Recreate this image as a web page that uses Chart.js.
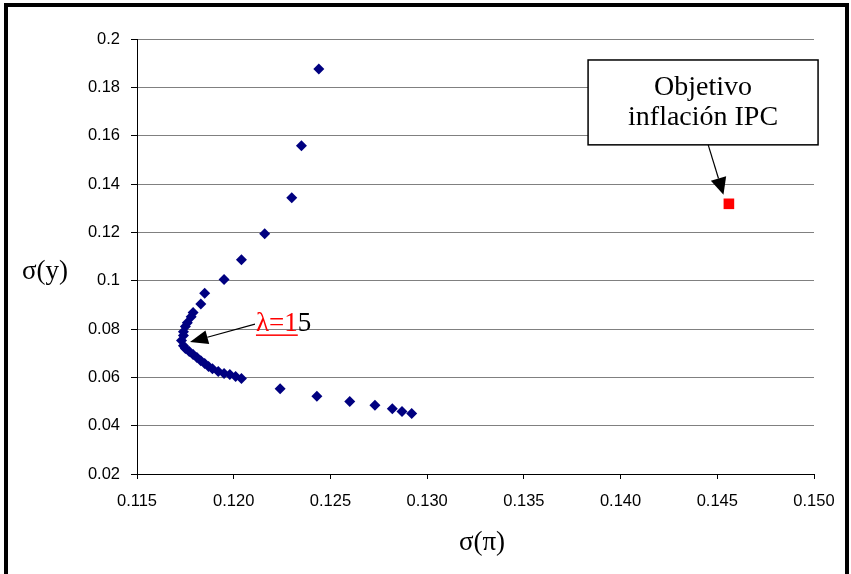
<!DOCTYPE html>
<html>
<head>
<meta charset="utf-8">
<script src="https://cdn.jsdelivr.net/npm/chart.js@4/dist/chart.umd.min.js"></script>
<style>
html,body{margin:0;padding:0;background:#fff;}
#wrap{position:relative;width:851px;height:574px;}
</style>
</head>
<body>
<div id="wrap"><canvas id="c" width="851" height="574"></canvas></div>
<script>
// Frontier: sigma(pi) and sigma(y) for varying lambda
const sigmaPi = [0.1244,0.1235,0.1230,0.1216,0.1204,0.1195,0.1185,0.1183,0.1179,0.1178,0.1176,0.1175,0.1174,0.1174,0.1173,
  0.1174,0.1175,0.1177,0.1179,0.1181,0.1183,0.1185,0.1187,0.1189,0.1192,0.1195,0.1198,0.1201,0.1204,
  0.1224,0.1243,0.1260,0.1273,0.1282,0.1287,0.1292];
const sigmaY = [0.1876,0.1558,0.1343,0.1194,0.1087,0.1005,0.0948,0.0903,0.0868,0.0851,0.0826,0.0810,0.0789,0.0773,0.0752,
  0.0731,0.0719,0.0707,0.0694,0.0682,0.0669,0.0657,0.0645,0.0636,0.0624,0.0616,0.0612,0.0603,0.0595,
  0.0553,0.0522,0.0500,0.0485,0.0470,0.0459,0.0450];
const targetPi = [0.1456];
const targetY = [0.1318];
const xTicks = [0.115,0.120,0.125,0.130,0.135,0.140,0.145,0.150];
const yTicks = [0.02,0.04,0.06,0.08,0.1,0.12,0.14,0.16,0.18,0.2];
const xTitle = 'σ(π)';
const yTitle = 'σ(y)';
const lambdaRed = 'λ=1';
const lambdaRest = '5';
const boxLines = ['Objetivo','inflación IPC'];

const frontier = sigmaPi.map((x,i)=>({x:x,y:sigmaY[i]}));
const target = targetPi.map((x,i)=>({x:x,y:targetY[i]}));

function arrow(ctx,x1,y1,x2,y2,len,wid){
  const a=Math.atan2(y2-y1,x2-x1);
  const bx=x2-len*Math.cos(a), by=y2-len*Math.sin(a);
  ctx.beginPath();ctx.moveTo(x1,y1);ctx.lineTo(bx,by);ctx.stroke();
  ctx.beginPath();
  ctx.moveTo(x2,y2);
  ctx.lineTo(bx+wid*Math.sin(a),by-wid*Math.cos(a));
  ctx.lineTo(bx-wid*Math.sin(a),by+wid*Math.cos(a));
  ctx.closePath();ctx.fill();
}

const deco = {
  id:'deco',
  afterDraw(chart){
    const ctx=chart.ctx, xs=chart.scales.x, ys=chart.scales.y;
    const px=v=>xs.getPixelForValue(v), py=v=>ys.getPixelForValue(v);
    ctx.save();
    // outer frame
    ctx.strokeStyle='#000';ctx.lineWidth=4;
    ctx.strokeRect(6,5,841,580);
    // axis titles
    ctx.fillStyle='#000';
    ctx.font='27px "Liberation Serif"';
    ctx.textAlign='center';ctx.textBaseline='middle';
    ctx.fillText(yTitle,45,272);
    ctx.fillText(xTitle,482,543);
    // lambda label
    ctx.font='27px "Liberation Serif"';
    ctx.textAlign='left';ctx.textBaseline='alphabetic';
    const lx=px(0.12115), ly=py(0.0790);
    ctx.fillStyle='#ff0000';
    ctx.fillText(lambdaRed,lx,ly);
    const w=ctx.measureText(lambdaRed).width;
    ctx.fillRect(lx,ly+3,w,1.5);
    ctx.fillStyle='#000';
    ctx.fillText(lambdaRest,lx+w,ly);
    // lambda arrow
    ctx.strokeStyle='#000';ctx.lineWidth=1.2;ctx.fillStyle='#000';
    arrow(ctx,px(0.1211),py(0.0820),px(0.11774),py(0.07459),18,7);
    // box
    const bl=px(0.13832), br=px(0.15021), bt=py(0.19132), bb=py(0.1562);
    ctx.fillStyle='#fff';ctx.fillRect(bl,bt,br-bl,bb-bt);
    ctx.strokeStyle='#000';ctx.lineWidth=1.5;ctx.strokeRect(bl,bt,br-bl,bb-bt);
    ctx.fillStyle='#000';ctx.textAlign='center';ctx.textBaseline='middle';
    ctx.font='28px "Liberation Serif"';
    ctx.fillText(boxLines[0],(bl+br)/2,bt+28);
    ctx.fillText(boxLines[1],(bl+br)/2,bt+58);
    ctx.lineWidth=1.2;
    arrow(ctx,px(0.14453),py(0.1562),px(0.14532),py(0.13554),17,8);
    ctx.restore();
  }
};

new Chart(document.getElementById('c'),{
  type:'scatter',
  data:{datasets:[
    {data:frontier,pointStyle:'rectRot',pointRadius:5.5,pointHoverRadius:5.5,backgroundColor:'#000080',borderColor:'#000080',borderWidth:0},
    {data:target,pointStyle:'rect',pointRadius:7.5,pointHoverRadius:7.5,backgroundColor:'#ff0000',borderColor:'#ff0000',borderWidth:0}
  ]},
  options:{
    responsive:false,animation:false,
    layout:{padding:{left:0,right:37,top:39,bottom:0}},
    plugins:{legend:{display:false},tooltip:{enabled:false}},
    scales:{
      x:{type:'linear',min:0.115,max:0.150,
        afterBuildTicks:s=>{s.ticks=xTicks.map(v=>({value:v}));},
        afterFit:s=>{s.height=100;},
        ticks:{callback:v=>v.toFixed(3),color:'#000',font:{family:'"Liberation Sans"',size:16.5},padding:13,maxRotation:0,autoSkip:false},
        grid:{drawOnChartArea:false,drawTicks:true,tickLength:5,tickColor:'#000'},
        border:{color:'#000',width:1}
      },
      y:{type:'linear',min:0.02,max:0.2,
        afterBuildTicks:s=>{s.ticks=yTicks.map(v=>({value:v}));},
        afterFit:s=>{s.width=137;},
        ticks:{callback:v=>String(Math.round(v*100)/100),color:'#000',font:{family:'"Liberation Sans"',size:16.5},padding:11,autoSkip:false},
        grid:{color:'#808080',lineWidth:1,drawTicks:true,tickLength:6,tickColor:'#000'},
        border:{color:'#000',width:1}
      }
    }
  },
  plugins:[deco]
});
</script>
</body>
</html>
